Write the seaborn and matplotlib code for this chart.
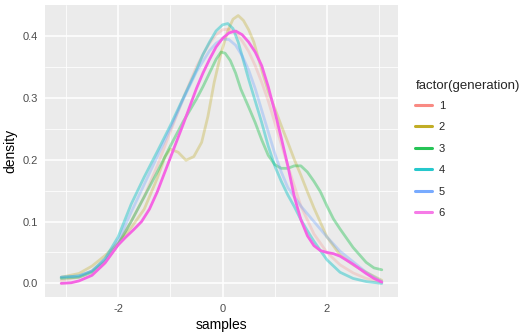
import numpy as np
import pandas as pd
import seaborn as sns
import matplotlib
matplotlib.use("Agg")
import matplotlib.pyplot as plt
from matplotlib.lines import Line2D

# Density estimates per generation (samples -> density)
x_g1 = [-3.09, -2.75, -2.5, -2.25, -2.0, -1.75, -1.5, -1.25, -1.0, -0.75, -0.5, -0.375, -0.25, -0.125, 0.0, 0.125, 0.25, 0.375, 0.5, 0.625, 0.75, 0.875, 1.0, 1.25, 1.5, 1.75, 2.0, 2.25, 2.5, 2.75, 3.05]
d_g1 = [0.005, 0.01, 0.02, 0.038, 0.065, 0.1, 0.14, 0.19, 0.245, 0.3, 0.35, 0.37, 0.388, 0.402, 0.41, 0.411, 0.405, 0.392, 0.375, 0.352, 0.325, 0.295, 0.26, 0.19, 0.125, 0.08, 0.05, 0.03, 0.017, 0.008, 0.002]

x_g2 = [-3.09, -2.75, -2.5, -2.25, -2.0, -1.75, -1.5, -1.25, -1.1, -1.0, -0.85, -0.7, -0.55, -0.4, -0.28, -0.16, -0.03, 0.1, 0.2, 0.3, 0.4, 0.5, 0.6, 0.75, 0.875, 1.0, 1.125, 1.25, 1.375, 1.5, 1.625, 1.75, 2.0, 2.25, 2.5, 2.75, 3.05]
d_g2 = [0.01, 0.016, 0.028, 0.045, 0.065, 0.09, 0.12, 0.17, 0.205, 0.217, 0.212, 0.199, 0.205, 0.228, 0.27, 0.325, 0.372, 0.408, 0.427, 0.433, 0.425, 0.41, 0.39, 0.345, 0.31, 0.283, 0.255, 0.228, 0.2, 0.175, 0.148, 0.122, 0.075, 0.046, 0.03, 0.018, 0.005]

x_g3 = [-3.09, -2.75, -2.5, -2.25, -2.0, -1.75, -1.5, -1.25, -1.0, -0.75, -0.5, -0.375, -0.25, -0.125, -0.03, 0.05, 0.15, 0.25, 0.35, 0.5, 0.625, 0.75, 0.875, 1.0, 1.125, 1.25, 1.375, 1.5, 1.625, 1.75, 1.875, 2.0, 2.125, 2.25, 2.5, 2.75, 2.9, 3.05]
d_g3 = [0.008, 0.01, 0.018, 0.035, 0.063, 0.1, 0.14, 0.18, 0.222, 0.262, 0.298, 0.318, 0.34, 0.362, 0.374, 0.372, 0.36, 0.34, 0.314, 0.285, 0.26, 0.232, 0.207, 0.192, 0.186, 0.186, 0.19, 0.19, 0.18, 0.165, 0.148, 0.125, 0.104, 0.088, 0.058, 0.034, 0.025, 0.022]

x_g4 = [-3.09, -2.75, -2.5, -2.25, -2.0, -1.75, -1.5, -1.25, -1.0, -0.75, -0.5, -0.375, -0.25, -0.125, 0.0, 0.1, 0.2, 0.3, 0.4, 0.5, 0.625, 0.75, 0.875, 1.0, 1.125, 1.25, 1.375, 1.5, 1.625, 1.75, 2.0, 2.25, 2.5, 2.75, 3.05]
d_g4 = [0.01, 0.012, 0.02, 0.04, 0.075, 0.128, 0.172, 0.213, 0.255, 0.3, 0.345, 0.37, 0.39, 0.408, 0.418, 0.42, 0.412, 0.39, 0.36, 0.33, 0.295, 0.26, 0.222, 0.19, 0.165, 0.143, 0.124, 0.103, 0.085, 0.068, 0.038, 0.018, 0.008, 0.003, 0.0]

x_g5 = [-3.09, -2.75, -2.5, -2.25, -2.0, -1.75, -1.5, -1.25, -1.0, -0.75, -0.5, -0.25, -0.125, 0.0, 0.125, 0.25, 0.375, 0.5, 0.625, 0.75, 0.875, 1.0, 1.125, 1.25, 1.5, 1.75, 2.0, 2.25, 2.5, 2.75, 3.05]
d_g5 = [0.01, 0.012, 0.02, 0.038, 0.068, 0.115, 0.16, 0.205, 0.25, 0.298, 0.342, 0.376, 0.388, 0.395, 0.394, 0.385, 0.368, 0.345, 0.315, 0.28, 0.245, 0.21, 0.18, 0.155, 0.125, 0.1, 0.075, 0.052, 0.035, 0.018, 0.003]

x_g6 = [-3.09, -2.9, -2.75, -2.5, -2.25, -2.0, -1.85, -1.7, -1.55, -1.4, -1.25, -1.0, -0.75, -0.5, -0.375, -0.25, -0.125, 0.0, 0.125, 0.25, 0.375, 0.5, 0.625, 0.75, 0.875, 1.0, 1.125, 1.25, 1.375, 1.5, 1.625, 1.75, 1.875, 2.0, 2.125, 2.25, 2.5, 2.75, 2.9, 3.05]
d_g6 = [0.0, 0.001, 0.004, 0.013, 0.033, 0.062, 0.075, 0.087, 0.1, 0.12, 0.148, 0.203, 0.258, 0.315, 0.34, 0.362, 0.382, 0.396, 0.405, 0.408, 0.402, 0.39, 0.374, 0.352, 0.318, 0.278, 0.235, 0.19, 0.14, 0.103, 0.077, 0.061, 0.053, 0.05, 0.048, 0.044, 0.031, 0.016, 0.008, 0.002]

generations = ["1", "2", "3", "4", "5", "6"]
xs = [x_g1, x_g2, x_g3, x_g4, x_g5, x_g6]
ds = [d_g1, d_g2, d_g3, d_g4, d_g5, d_g6]

colors = ["#F8766D", "#B79F00", "#00BA38", "#00BFC4", "#619CFF", "#F564E3"]
alphas = [0.22, 0.28, 0.36, 0.42, 0.32, 1.0]

df = pd.concat(
    [pd.DataFrame({"samples": x, "density": d, "generation": g})
     for x, d, g in zip(xs, ds, generations)],
    ignore_index=True,
)

sns.set_style("darkgrid", {"axes.facecolor": "#EBEBEB", "grid.color": "white"})
plt.rcParams["font.family"] = ["Liberation Sans", "DejaVu Sans"]

fig = plt.figure(figsize=(5.24, 3.35), dpi=100)
ax = fig.add_axes([45 / 524, 38 / 335, 353 / 524, 292 / 335])

for g, c, a in zip(generations, colors, alphas):
    sub = df[df["generation"] == g]
    sns.lineplot(data=sub, x="samples", y="density", color=c, alpha=a,
                 linewidth=2.0, ax=ax, sort=False, legend=False,
                 solid_capstyle="round", solid_joinstyle="round")

ax.set_xlim(-3.40, 3.36)
ax.set_ylim(-0.022, 0.45)
ax.set_xticks([-2, 0, 2])
ax.set_xticklabels(["-2", "0", "2"])
ax.set_yticks([0.0, 0.1, 0.2, 0.3, 0.4])
ax.set_yticklabels(["0.0", "0.1", "0.2", "0.3", "0.4"])
ax.set_xticks([-3, -1, 1, 3], minor=True)
ax.set_yticks([0.05, 0.15, 0.25, 0.35], minor=True)
ax.grid(which="major", color="white", linewidth=1.1)
ax.grid(which="minor", color="white", linewidth=0.55)
for s in ax.spines.values():
    s.set_visible(False)
ax.tick_params(axis="both", which="major", length=3, width=0.8, color="#333333",
               labelsize=8, labelcolor="#4D4D4D", pad=2)
ax.tick_params(axis="both", which="minor", length=0)
ax.set_xlabel("samples", fontsize=10, color="black", labelpad=3)
ax.set_ylabel("density", fontsize=10, color="black", labelpad=4)

handles = [Line2D([0], [0], color=c, linewidth=2.2, alpha=0.85) for c in colors]
leg = fig.legend(handles, generations, title="factor(generation)",
                 loc="upper left", bbox_to_anchor=(411 / 524, 1 - 76 / 335),
                 frameon=False, fontsize=8, title_fontsize=9.5,
                 handlelength=1.5, handletextpad=0.6, labelspacing=1.03,
                 borderaxespad=0)
leg._legend_box.align = "left"
leg._legend_box.sep = 6

fig.savefig("out.png", dpi=100)
